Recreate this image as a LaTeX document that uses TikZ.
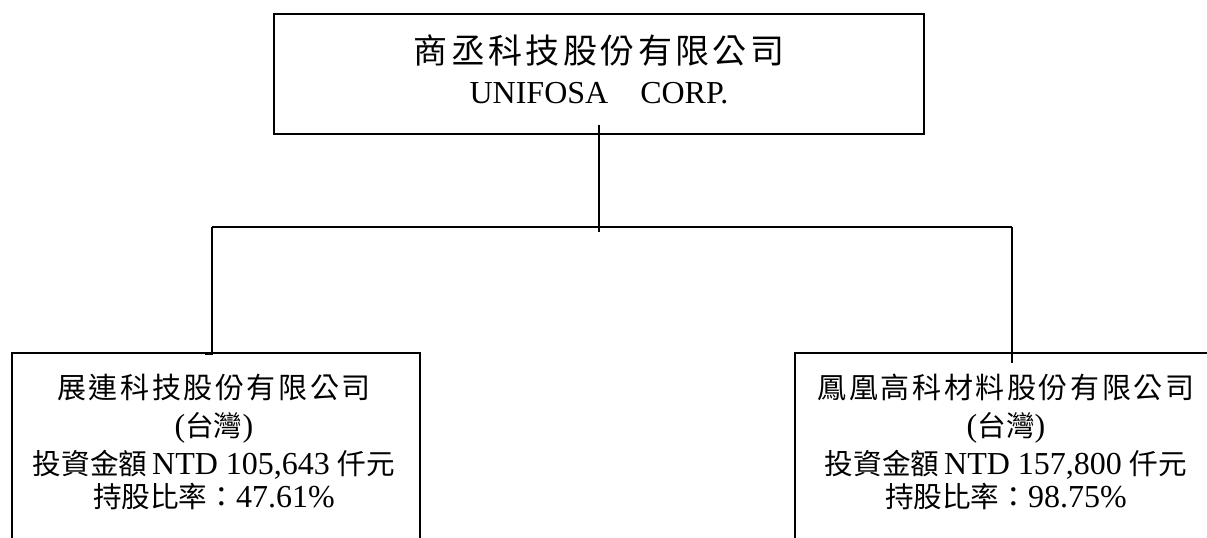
\documentclass[tikz,border=0pt]{standalone}
\usepackage{fontspec}
\setmainfont{Liberation Serif}
\newfontfamily\zhbigfont[LetterSpace=10]{Noto Sans CJK TC}
\newfontfamily\zhwidefont[LetterSpace=9]{Noto Sans CJK TC}
\newfontfamily\zhfont{Noto Sans CJK TC}
\newcommand{\zhbig}[1]{{\zhbigfont\fontsize{17}{20}\selectfont #1}}
\newcommand{\zhwide}[1]{{\zhwidefont\fontsize{14.5}{18}\selectfont #1}}
\newcommand{\zh}[1]{{\zhfont\fontsize{14.3}{18}\selectfont #1}}
\usetikzlibrary{positioning,calc}

\begin{document}
\begin{tikzpicture}[x=0.5pt,y=-0.5pt]
	\tikzstyle{orgbox}=[draw, line width=1pt, inner sep=0pt]
	\tikzstyle{orgtext}=[inner sep=0pt, align=center]
	\tikzstyle{link}=[line width=0.6pt]

	\useasboundingbox (0,0) rectangle (1207,537);
	\clip (0,0) rectangle (1207,537);

	% parent company
	\node[orgbox, minimum width=325pt, minimum height=59.75pt] (unifosa) at (599,73.75) {};
	\node[orgtext, font=\fontsize{16}{20}\selectfont, below=10.5pt of unifosa.north] (unifosatext)
		{\zhbig{商丞科技股份有限公司}\\UNIFOSA\quad CORP.};

	% investees
	\node[orgbox, minimum width=204pt, minimum height=120pt, anchor=north west] (zhanlian) at (11,352) {};
	\node[orgtext, font=\fontsize{16}{18}\selectfont, below=10.65pt of zhanlian.north, xshift=-1pt] (zhanliantext)
		{\zhwide{展連科技股份有限公司}\\[1pt](\zh{台灣})\\[1pt]\zh{投資金額}\hspace{2.5pt}NTD 105,643 \zh{仟元}\\[-1.5pt]\zh{持股比率：}47.61\%};

	\node[orgbox, minimum width=211pt, minimum height=120pt, anchor=north west] (fenghuang) at (794,352) {};
	\node[orgtext, font=\fontsize{16}{18}\selectfont, below=10.65pt of fenghuang.north] (fenghuangtext)
		{\zhwide{鳳凰高科材料股份有限公司}\\[1pt](\zh{台灣})\\[1pt]\zh{投資金額}\hspace{2.5pt}NTD 157,800 \zh{仟元}\\[-1.5pt]\zh{持股比率：}98.75\%};

	% connectors
	\coordinate (bus) at (599,227);
	\coordinate (busleft) at (212,227);
	\coordinate (busright) at (1012,227);
	\draw[link] (busleft) -- (busright);
	\draw[link] ($(unifosa.south)+(0,-10)$) -- ($(bus)+(0,5)$);
	\draw[link] (busleft) -- ($(busleft |- zhanlian.north)+(0,2)$) -- ++(-7,0);
	\draw[link] (busright) -- ($(busright |- fenghuang.north)+(0,11)$);
\end{tikzpicture}
\end{document}
